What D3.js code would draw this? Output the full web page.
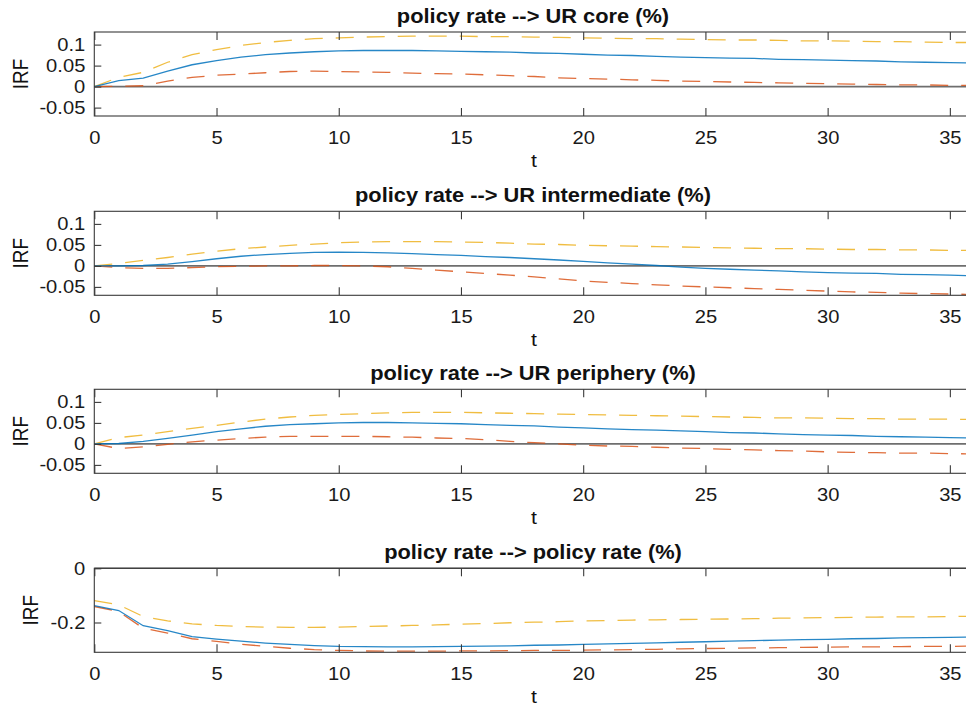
<!DOCTYPE html>
<html>
<head>
<meta charset="utf-8">
<script src="https://cdn.jsdelivr.net/npm/d3@7"></script>
<style>
  body { margin: 0; background: #fff; }
  svg { display: block; }
</style>
</head>
<body>
<svg id="fig" width="966" height="713"></svg>
<script>
// Impulse responses to a policy-rate shock, horizons 0..36
const horizon = [0,1,2,3,4,5,6,7,8,9,10,11,12,13,14,15,16,17,18,19,20,21,22,23,24,25,26,27,28,29,30,31,32,33,34,35,36];

const panelTitles = [
  "policy rate --> UR core (%)",
  "policy rate --> UR intermediate (%)",
  "policy rate --> UR periphery (%)",
  "policy rate --> policy rate (%)"
];

// UR core
const coreMedian = [0,0.014,0.020,0.037,0.052,0.062,0.070,0.076,0.080,0.083,0.085,0.086,0.086,0.086,0.085,0.084,0.083,0.082,0.080,0.079,0.077,0.075,0.074,0.072,0.070,0.069,0.068,0.067,0.065,0.064,0.063,0.062,0.061,0.059,0.058,0.057,0.056];
const coreUpper  = [0,0.022,0.034,0.058,0.076,0.088,0.098,0.105,0.110,0.114,0.116,0.118,0.119,0.120,0.120,0.120,0.119,0.119,0.118,0.117,0.116,0.115,0.114,0.114,0.113,0.112,0.111,0.111,0.110,0.109,0.109,0.108,0.107,0.107,0.106,0.105,0.105];
const coreLower  = [0,0.001,0.002,0.013,0.022,0.027,0.030,0.033,0.036,0.037,0.036,0.035,0.034,0.032,0.031,0.030,0.028,0.026,0.024,0.021,0.019,0.018,0.016,0.015,0.013,0.012,0.011,0.010,0.009,0.008,0.007,0.006,0.005,0.004,0.004,0.003,0.003];

// UR intermediate
const interMedian = [0,0,0.001,0.004,0.010,0.017,0.023,0.027,0.030,0.032,0.033,0.032,0.031,0.029,0.027,0.025,0.022,0.020,0.017,0.014,0.011,0.007,0.004,0.001,-0.003,-0.006,-0.008,-0.010,-0.012,-0.014,-0.016,-0.017,-0.018,-0.020,-0.021,-0.022,-0.024];
const interUpper  = [0,0.006,0.013,0.020,0.028,0.035,0.041,0.045,0.049,0.052,0.055,0.057,0.058,0.058,0.058,0.057,0.056,0.054,0.052,0.051,0.049,0.048,0.047,0.046,0.045,0.044,0.043,0.042,0.041,0.041,0.040,0.039,0.039,0.038,0.038,0.037,0.037];
const interLower  = [0,-0.004,-0.006,-0.006,-0.004,-0.002,-0.001,0,0,0.001,0.001,0,-0.002,-0.006,-0.010,-0.014,-0.018,-0.022,-0.026,-0.031,-0.036,-0.039,-0.042,-0.045,-0.048,-0.050,-0.052,-0.054,-0.056,-0.058,-0.060,-0.062,-0.063,-0.065,-0.066,-0.067,-0.068];

// UR periphery
const periMedian = [0,0.001,0.006,0.013,0.021,0.029,0.036,0.042,0.046,0.048,0.050,0.051,0.051,0.050,0.049,0.048,0.046,0.044,0.043,0.040,0.038,0.036,0.034,0.033,0.031,0.029,0.027,0.026,0.024,0.022,0.021,0.020,0.018,0.017,0.016,0.015,0.014];
const periUpper  = [0,0.015,0.021,0.029,0.037,0.044,0.052,0.059,0.064,0.068,0.070,0.072,0.074,0.075,0.075,0.075,0.074,0.073,0.072,0.071,0.070,0.069,0.068,0.067,0.066,0.065,0.064,0.063,0.062,0.062,0.061,0.060,0.060,0.059,0.059,0.059,0.058];
const periLower  = [0,-0.011,-0.007,-0.001,0.005,0.009,0.013,0.016,0.018,0.018,0.018,0.018,0.017,0.016,0.014,0.013,0.010,0.006,0.003,0,-0.003,-0.005,-0.006,-0.008,-0.010,-0.011,-0.013,-0.014,-0.016,-0.017,-0.019,-0.020,-0.021,-0.022,-0.022,-0.023,-0.024];

// Policy rate
const rateMedian = [-0.138,-0.156,-0.212,-0.230,-0.252,-0.261,-0.269,-0.276,-0.281,-0.285,-0.288,-0.289,-0.290,-0.290,-0.289,-0.288,-0.287,-0.286,-0.284,-0.283,-0.281,-0.279,-0.277,-0.275,-0.273,-0.271,-0.269,-0.267,-0.265,-0.263,-0.262,-0.260,-0.259,-0.257,-0.256,-0.255,-0.254];
const rateUpper  = [-0.119,-0.135,-0.178,-0.194,-0.205,-0.211,-0.215,-0.217,-0.218,-0.218,-0.217,-0.215,-0.213,-0.211,-0.209,-0.206,-0.204,-0.201,-0.199,-0.197,-0.194,-0.193,-0.191,-0.190,-0.189,-0.188,-0.187,-0.186,-0.184,-0.183,-0.182,-0.181,-0.180,-0.179,-0.179,-0.178,-0.177];
const rateLower  = [-0.141,-0.160,-0.221,-0.239,-0.260,-0.270,-0.280,-0.288,-0.295,-0.300,-0.303,-0.305,-0.306,-0.306,-0.306,-0.305,-0.305,-0.304,-0.303,-0.303,-0.302,-0.301,-0.300,-0.299,-0.297,-0.296,-0.295,-0.294,-0.293,-0.292,-0.291,-0.290,-0.290,-0.289,-0.288,-0.288,-0.287];

const xTickValues = [0,5,10,15,20,25,30,35];
const urTickValues = [-0.05,0,0.05,0.1];
const urTickLabels = ["-0.05","0","0.05","0.1"];
const rateTickValues = [-0.2,0];
const rateTickLabels = ["-0.2","0"];
const urDomain = [-0.07, 0.13];
const rateDomain = [-0.31, 0];

const panels = [
  { title: panelTitles[0], median: coreMedian,  upper: coreUpper,  lower: coreLower,  domain: urDomain,   ticks: urTickValues,   labels: urTickLabels },
  { title: panelTitles[1], median: interMedian, upper: interUpper, lower: interLower, domain: urDomain,   ticks: urTickValues,   labels: urTickLabels },
  { title: panelTitles[2], median: periMedian,  upper: periUpper,  lower: periLower,  domain: urDomain,   ticks: urTickValues,   labels: urTickLabels },
  { title: panelTitles[3], median: rateMedian,  upper: rateUpper,  lower: rateLower,  domain: rateDomain, ticks: rateTickValues, labels: rateTickLabels }
];

// Layout
const SX = 1.12;                 // horizontal text stretch
const FONT = "'Liberation Sans', Arial, Helvetica, sans-serif";
const left = 94.3, right = 974.3;
const panelTops = [32, 211.3, 389.3, 568.3];
const panelH = 84;
const ylabelX = [28, 28, 28, 38];

const COLORS = { median: "#0072BD", lower: "#D95319", upper: "#EDB120" };
const AXIS = "#3a3a3a";

const svg = d3.select("#fig");
const x = d3.scaleLinear().domain([0, 36]).range([left, right]);

function stretchedText(parent, px, py, str, opts = {}) {
  const g = parent.append("g")
    .attr("transform", `translate(${px},${py}) scale(${SX},1)` + (opts.rotate ? " rotate(-90)" : ""));
  return g.append("text")
    .attr("text-anchor", opts.anchor || "middle")
    .attr("font-family", FONT)
    .attr("font-size", opts.size || 18)
    .attr("font-weight", opts.weight || "normal")
    .attr("fill", "#111")
    .text(str);
}

panels.forEach((p, i) => {
  const top = panelTops[i], bottom = top + panelH;
  const y = d3.scaleLinear().domain(p.domain).range([bottom, top]);
  const g = svg.append("g");

  // zero reference line
  g.append("line")
    .attr("x1", x(0)).attr("x2", x(36))
    .attr("y1", y(0)).attr("y2", y(0))
    .attr("stroke", "#6e6e6e").attr("stroke-width", 1.6);

  const line = d3.line().x((d, k) => x(horizon[k])).y(d => y(d)).curve(d3.curveLinear);

  g.append("path").datum(p.upper).attr("d", line)
    .attr("fill", "none").attr("stroke", COLORS.upper).attr("stroke-width", 1.3)
    .attr("stroke-dasharray", "18,13").attr("opacity", 0.85);
  g.append("path").datum(p.lower).attr("d", line)
    .attr("fill", "none").attr("stroke", COLORS.lower).attr("stroke-width", 1.3)
    .attr("stroke-dasharray", "18,13").attr("opacity", 0.85);
  g.append("path").datum(p.median).attr("d", line)
    .attr("fill", "none").attr("stroke", COLORS.median).attr("stroke-width", 1.3)
    .attr("opacity", 0.85);

  // axes with inward ticks
  const bottomAxis = d3.axisBottom(x).tickValues(xTickValues).tickSize(-8).tickPadding(15);
  const topAxis = d3.axisTop(x).tickValues(xTickValues).tickSize(-8).tickFormat("");
  const leftAxis = d3.axisLeft(y).tickValues(p.ticks).tickSize(-7).tickPadding(8)
    .tickFormat((d, k) => p.labels[k]);
  const rightAxis = d3.axisRight(y).tickValues(p.ticks).tickSize(-7).tickFormat("");

  const styleAxis = sel => {
    sel.select(".domain").remove();
    sel.selectAll("line").attr("stroke", AXIS).attr("stroke-width", 1.1);
    sel.selectAll("text")
      .attr("font-family", FONT).attr("font-size", 18).attr("fill", "#1a1a1a")
      .attr("transform", `scale(${SX},1)`);
  };

  g.append("g").attr("transform", `translate(0,${bottom})`).call(bottomAxis).call(styleAxis);
  g.append("g").attr("transform", `translate(0,${top})`).call(topAxis).call(styleAxis);
  g.append("g").attr("transform", `translate(${left},0)`).call(leftAxis).call(styleAxis);
  g.append("g").attr("transform", `translate(${right},0)`).call(rightAxis).call(styleAxis);

  // axes box
  g.append("rect")
    .attr("x", left).attr("y", top)
    .attr("width", right - left).attr("height", panelH)
    .attr("fill", "none").attr("stroke", AXIS).attr("stroke-width", 1.1);

  // title and axis labels
  stretchedText(g, 533, top - 9, p.title, { size: 19.5, weight: "bold" });
  stretchedText(g, 534, bottom + 51, "t", { size: 19 });
  stretchedText(g, ylabelX[i], (top + bottom) / 2, "IRF", { size: 19, rotate: true });
});
</script>
</body>
</html>
